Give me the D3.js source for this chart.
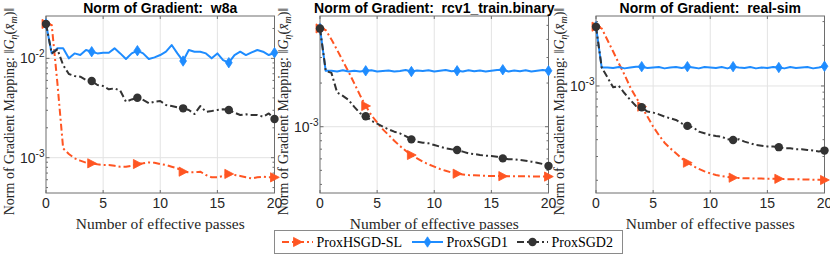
<!DOCTYPE html>
<html><head><meta charset="utf-8">
<script src="https://cdn.jsdelivr.net/npm/d3@7"></script>
<style>body{margin:0;background:#fff}svg{display:block}</style>
</head><body>
<script>
const passes = [0,0.5,1,1.5,2,2.5,3,3.5,4,4.5,5,5.5,6,6.5,7,7.5,8,8.5,9,9.5,10,10.5,11,11.5,12,12.5,13,13.5,14,14.5,15,15.5,16,16.5,17,17.5,18,18.5,19,19.5,20];
const markerPasses = [0,4,8,12,16,20];
const seriesNames = ["ProxHSGD-SL","ProxSGD1","ProxSGD2"];
const titles = ["Norm of Gradient:  w8a","Norm of Gradient:  rcv1_train.binary","Norm of Gradient:  real-sim"];
const xTicks = [0,5,10,15,20];
const yDomains = [[4.41e-4,2.67e-2],[3.49e-4,5.80e-3],[1.61e-4,3.30e-3]];

const w8aHSGD = [2.22e-2,2.17e-2,5.6e-3,1.24e-3,1.09e-3,9.85e-4,9.33e-4,8.91e-4,8.77e-4,8.57e-4,8.44e-4,8.44e-4,8.30e-4,8.11e-4,8.11e-4,8.30e-4,8.63e-4,8.77e-4,8.97e-4,8.90e-4,8.63e-4,8.44e-4,8.11e-4,7.81e-4,7.23e-4,7.12e-4,7.12e-4,7.23e-4,6.69e-4,6.34e-4,6.34e-4,6.54e-4,6.86e-4,6.69e-4,6.54e-4,6.34e-4,6.19e-4,6.34e-4,6.44e-4,6.34e-4,6.34e-4];
const w8aSGD1 = [2.22e-2,1.122e-2,1.261e-2,1.261e-2,1.00e-2,1.122e-2,1.080e-2,1.213e-2,1.167e-2,1.122e-2,1.140e-2,1.140e-2,1.261e-2,1.122e-2,9.85e-3,1.122e-2,1.195e-2,1.122e-2,9.85e-3,1.023e-2,1.080e-2,1.167e-2,1.362e-2,1.122e-2,9.40e-3,1.213e-2,1.167e-2,1.167e-2,1.122e-2,1.00e-2,1.122e-2,9.62e-3,9.04e-3,1.080e-2,1.167e-2,1.080e-2,1.149e-2,1.213e-2,1.167e-2,1.080e-2,1.140e-2];
const w8aSGD2 = [2.22e-2,1.122e-2,1.232e-2,8.57e-3,6.95e-3,6.64e-3,6.54e-3,6.05e-3,5.91e-3,5.39e-3,5.27e-3,4.88e-3,4.99e-3,4.72e-3,3.66e-3,3.86e-3,4.01e-3,3.81e-3,3.53e-3,3.66e-3,3.72e-3,3.39e-3,3.31e-3,3.21e-3,3.14e-3,3.02e-3,2.75e-3,3.31e-3,2.90e-3,2.95e-3,3.02e-3,3.07e-3,3.02e-3,2.84e-3,2.69e-3,2.73e-3,2.69e-3,2.69e-3,2.59e-3,2.79e-3,2.45e-3];

const rcv1HSGD = [4.76e-3,4.65e-3,4.00e-3,3.38e-3,2.84e-3,2.39e-3,1.99e-3,1.65e-3,1.39e-3,1.20e-3,1.07e-3,9.59e-4,8.77e-4,8.00e-4,7.36e-4,6.83e-4,6.38e-4,6.05e-4,5.74e-4,5.50e-4,5.30e-4,5.11e-4,4.97e-4,4.84e-4,4.74e-4,4.69e-4,4.64e-4,4.62e-4,4.60e-4,4.58e-4,4.57e-4,4.57e-4,4.56e-4,4.56e-4,4.55e-4,4.55e-4,4.55e-4,4.54e-4,4.54e-4,4.53e-4,4.53e-4];
const rcv1SGD1 = [4.76e-3,2.43e-3,2.43e-3,2.40e-3,2.45e-3,2.40e-3,2.43e-3,2.40e-3,2.43e-3,2.45e-3,2.40e-3,2.42e-3,2.44e-3,2.40e-3,2.42e-3,2.46e-3,2.40e-3,2.44e-3,2.42e-3,2.45e-3,2.40e-3,2.43e-3,2.46e-3,2.41e-3,2.43e-3,2.40e-3,2.45e-3,2.41e-3,2.44e-3,2.40e-3,2.43e-3,2.46e-3,2.47e-3,2.40e-3,2.44e-3,2.41e-3,2.45e-3,2.40e-3,2.43e-3,2.46e-3,2.43e-3];
const rcv1SGD2 = [4.76e-3,2.43e-3,2.35e-3,1.72e-3,1.63e-3,1.53e-3,1.37e-3,1.24e-3,1.18e-3,1.10e-3,1.05e-3,1.00e-3,9.59e-4,9.24e-4,8.99e-4,8.62e-4,8.18e-4,7.88e-4,7.76e-4,7.68e-4,7.48e-4,7.28e-4,7.09e-4,6.98e-4,6.91e-4,6.73e-4,6.55e-4,6.48e-4,6.38e-4,6.31e-4,6.28e-4,6.21e-4,6.05e-4,5.96e-4,5.96e-4,5.89e-4,5.83e-4,5.74e-4,5.65e-4,5.53e-4,5.36e-4];

const realsimHSGD = [2.75e-3,2.67e-3,2.19e-3,1.80e-3,1.47e-3,1.21e-3,9.77e-4,8.24e-4,7.03e-4,5.93e-4,5.00e-4,4.33e-4,3.80e-4,3.45e-4,3.17e-4,2.91e-4,2.70e-4,2.55e-4,2.43e-4,2.33e-4,2.25e-4,2.19e-4,2.15e-4,2.12e-4,2.09e-4,2.08e-4,2.07e-4,2.07e-4,2.06e-4,2.06e-4,2.05e-4,2.05e-4,2.05e-4,2.04e-4,2.04e-4,2.04e-4,2.03e-4,2.03e-4,2.02e-4,2.02e-4,2.01e-4];
const realsimSGD1 = [2.75e-3,1.37e-3,1.37e-3,1.36e-3,1.38e-3,1.35e-3,1.37e-3,1.39e-3,1.39e-3,1.36e-3,1.37e-3,1.38e-3,1.35e-3,1.37e-3,1.38e-3,1.36e-3,1.39e-3,1.37e-3,1.35e-3,1.38e-3,1.37e-3,1.36e-3,1.38e-3,1.35e-3,1.39e-3,1.37e-3,1.36e-3,1.38e-3,1.35e-3,1.37e-3,1.36e-3,1.38e-3,1.37e-3,1.35e-3,1.38e-3,1.36e-3,1.37e-3,1.38e-3,1.35e-3,1.37e-3,1.40e-3];
const realsimSGD2 = [2.75e-3,1.37e-3,1.16e-3,9.77e-4,1.00e-3,8.83e-4,7.88e-4,7.11e-4,6.95e-4,6.46e-4,6.35e-4,6.16e-4,5.93e-4,5.76e-4,5.60e-4,5.29e-4,5.06e-4,4.94e-4,4.59e-4,4.46e-4,4.33e-4,4.26e-4,4.21e-4,4.03e-4,3.98e-4,4.03e-4,3.87e-4,3.76e-4,3.65e-4,3.61e-4,3.56e-4,3.56e-4,3.52e-4,3.45e-4,3.45e-4,3.40e-4,3.40e-4,3.36e-4,3.32e-4,3.27e-4,3.32e-4];

const panelData = [[w8aHSGD,w8aSGD1,w8aSGD2],[rcv1HSGD,rcv1SGD1,rcv1SGD2],[realsimHSGD,realsimSGD1,realsimSGD2]];

// styles
const colors = ["#FF5522","#1E8CFF","#333333"];
const dashes = ["7,3,2,3",null,"7,3,2,3"];
const W = 830, H = 256;
const lefts = [46,320,596], pw = 228.5, plotTop = 16, plotBottom = 193;
const sans = "'Liberation Sans', Arial, Helvetica, sans-serif";
const serif = "'Liberation Serif', 'Times New Roman', serif";
const axisColor = "#6e6e6e", gridColor = "#e3e3e3";

const svg = d3.select("body").append("svg").attr("width",W).attr("height",H);

function marker(g, type, x, y, color){
  if(type===0){
    g.append("path").attr("d",`M${x-4},${y-4.6}L${x+4.8},${y}L${x-4},${y+4.6}Z`).attr("fill",color).attr("stroke",color).attr("stroke-width",0.8);
  } else if(type===1){
    g.append("path").attr("d",`M${x},${y-5.2}L${x+3.4},${y}L${x},${y+5.2}L${x-3.4},${y}Z`).attr("fill",color).attr("stroke",color).attr("stroke-width",0.8);
  } else {
    g.append("circle").attr("cx",x).attr("cy",y).attr("r",4.2).attr("fill",color);
  }
}

panelData.forEach((series,pi)=>{
  const L = lefts[pi];
  const x = d3.scaleLinear().domain([0,20]).range([L,L+pw]);
  const y = d3.scaleLog().domain(yDomains[pi]).range([plotBottom,plotTop]);
  const g = svg.append("g");
  const [lo,hi] = yDomains[pi];
  // grid
  xTicks.slice(1,-1).forEach(t=>{
    g.append("line").attr("x1",x(t)).attr("x2",x(t)).attr("y1",plotTop).attr("y2",plotBottom).attr("stroke",gridColor).attr("stroke-width",1);
  });
  const majors = [], minors = [];
  for(let e=Math.floor(Math.log10(lo)); e<=Math.ceil(Math.log10(hi)); e++){
    for(let m=1;m<10;m++){
      const v = m*Math.pow(10,e);
      if(v>=lo && v<=hi){ (m===1?majors:minors).push({v,e}); }
    }
  }
  majors.forEach(d=>{
    g.append("line").attr("x1",L).attr("x2",L+pw).attr("y1",y(d.v)).attr("y2",y(d.v)).attr("stroke",gridColor).attr("stroke-width",1);
  });
  // box
  g.append("rect").attr("x",L).attr("y",plotTop).attr("width",pw).attr("height",plotBottom-plotTop).attr("fill","none").attr("stroke",axisColor).attr("stroke-width",1);
  // x ticks
  xTicks.forEach(t=>{
    g.append("line").attr("x1",x(t)).attr("x2",x(t)).attr("y1",plotBottom).attr("y2",plotBottom-3).attr("stroke",axisColor);
    g.append("line").attr("x1",x(t)).attr("x2",x(t)).attr("y1",plotTop).attr("y2",plotTop+3).attr("stroke",axisColor);
    g.append("text").attr("x",x(t)).attr("y",207.5).attr("text-anchor","middle").attr("font-family",sans).attr("font-size",14).attr("fill","#262626").text(t);
  });
  // y ticks
  majors.forEach(d=>{
    g.append("line").attr("x1",L).attr("x2",L+3.5).attr("y1",y(d.v)).attr("y2",y(d.v)).attr("stroke",axisColor);
    g.append("line").attr("x1",L+pw).attr("x2",L+pw-3.5).attr("y1",y(d.v)).attr("y2",y(d.v)).attr("stroke",axisColor);
    const tx = g.append("text").attr("x",L-1.5).attr("y",y(d.v)+5).attr("text-anchor","end").attr("font-family",sans).attr("font-size",14).attr("fill","#262626");
    tx.append("tspan").text("10");
    tx.append("tspan").attr("font-size",10).attr("dy",-6).text(String(d.e));
  });
  minors.forEach(d=>{
    g.append("line").attr("x1",L).attr("x2",L+2).attr("y1",y(d.v)).attr("y2",y(d.v)).attr("stroke",axisColor);
    g.append("line").attr("x1",L+pw).attr("x2",L+pw-2).attr("y1",y(d.v)).attr("y2",y(d.v)).attr("stroke",axisColor);
  });
  // title
  g.append("text").attr("x",L+pw/2).attr("y",12.5).attr("text-anchor","middle").attr("font-family",sans).attr("font-weight","bold").attr("font-size",14).attr("style","white-space:pre").attr("fill","#000").text(titles[pi]);
  // xlabel
  g.append("text").attr("x",L+pw/2).attr("y",229).attr("text-anchor","middle").attr("font-family",serif).attr("font-size",15.5).attr("fill","#262626").text("Number of effective passes");
  // ylabel
  const yl = g.append("text").attr("transform",`translate(${L-32},${(plotTop+plotBottom)/2+7}) rotate(-90)`).attr("text-anchor","middle").attr("font-family",serif).attr("font-size",14).attr("fill","#262626");
  yl.append("tspan").text("Norm of Gradient Mapping: \u2016");
  yl.append("tspan").attr("font-style","italic").text("G");
  yl.append("tspan").attr("font-style","italic").attr("font-size",10).attr("dy",3).text("\u03B7");
  yl.append("tspan").attr("dy",-3).text("(");
  yl.append("tspan").attr("font-style","italic").text("x\u0304");
  yl.append("tspan").attr("font-style","italic").attr("font-size",10).attr("dy",3).text("m");
  yl.append("tspan").attr("dy",-3).text(")\u2016");
  // lines
  const line = d3.line().x((d,i)=>x(passes[i])).y(d=>y(d));
  series.forEach((vals,si)=>{
    const p = g.append("path").datum(vals).attr("d",line).attr("fill","none").attr("stroke",colors[si]).attr("stroke-width",2).attr("stroke-linejoin","round");
    if(dashes[si]) p.attr("stroke-dasharray",dashes[si]);
    markerPasses.forEach(mp=>{
      const i = passes.indexOf(mp);
      marker(g, si, x(mp), y(vals[i]), colors[si]);
    });
  });
});

// legend
const lg = svg.append("g");
lg.append("rect").attr("x",274.5).attr("y",230.5).attr("width",348).attr("height",23).attr("fill","#fff").attr("stroke","#8a8a8a").attr("stroke-width",1);
const legX = [282,412,517];
seriesNames.forEach((n,si)=>{
  const x0 = legX[si], yy = 242;
  const p = lg.append("line").attr("x1",x0).attr("x2",x0+31).attr("y1",yy).attr("y2",yy).attr("stroke",colors[si]).attr("stroke-width",2);
  if(dashes[si]) p.attr("stroke-dasharray",dashes[si]);
  marker(lg, si, x0+15.5, yy, colors[si]);
  lg.append("text").attr("x",x0+34.5).attr("y",yy+4.5).attr("font-family",serif).attr("font-size",14).attr("fill","#000").text(n);
});
</script>
</body></html>
